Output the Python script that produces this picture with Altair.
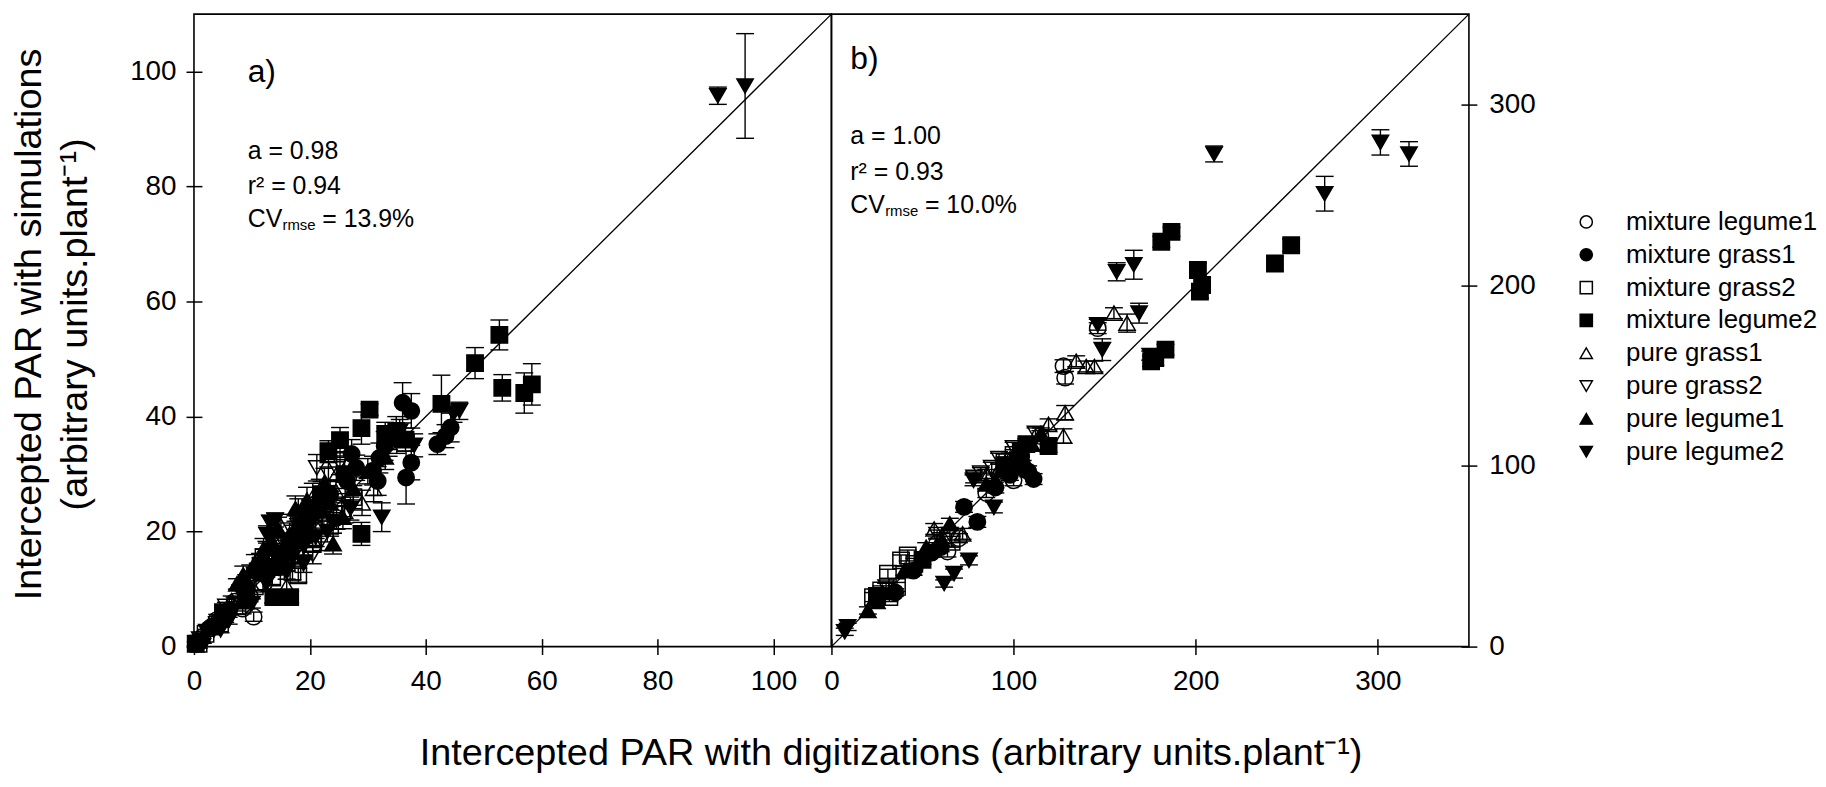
import altair as alt
import pandas as pd

FONT = "Liberation Sans"

SERIES = ["mixture legume1", "mixture grass1", "mixture grass2", "mixture legume2",
          "pure grass1", "pure grass2", "pure legume1", "pure legume2"]
SHAPES = ["circle", "circle", "square", "square",
          "triangle-up", "triangle-down", "triangle-up", "triangle-down"]
FILLS = ["transparent", "black", "transparent", "black",
         "transparent", "transparent", "black", "black"]
STROKES = ["black"] * 8

# ---- panel a) : (digitized, simulated, error) -------------------------------
A_MIX_LEGUME1 = [(0.5, 0.8, 0.3), (1.4, 1.6, 0.4), (2.6, 3.1, 0.5), (3.9, 4.6, 0.6), (5.4, 5.0, 0.8),
                 (7.0, 7.8, 0.8), (8.4, 6.6, 0.9), (9.6, 8.8, 1.0), (10.3, 5.2, 0.8), (12.1, 11.0, 1.2),
                 (14.6, 13.8, 1.3), (17.4, 16.1, 1.5), (21.0, 20.6, 1.8), (24.6, 22.4, 2.0)]
A_MIX_GRASS1 = [(1.0, 0.8, 0.3), (3.1, 3.5, 0.5), (6.1, 6.4, 0.8), (9.1, 10.1, 1.0), (11.0, 13.0, 1.5),
                (13.0, 13.6, 1.2), (15.0, 16.0, 1.6), (16.6, 17.1, 1.5), (18.0, 20.0, 1.8), (19.4, 21.6, 1.8),
                (21.0, 23.5, 2.0), (22.6, 25.4, 2.0), (23.5, 26.5, 2.2), (26.4, 28.8, 2.2), (27.2, 33.5, 2.5),
                (28.0, 31.1, 2.2), (30.9, 30.6, 2.5), (31.7, 28.8, 2.5), (32.0, 32.8, 2.6), (32.9, 34.9, 2.5),
                (36.0, 42.4, 3.5), (37.5, 41.0, 3.0), (37.5, 32.0, 3.0), (36.6, 29.4, 4.6), (42.0, 35.2, 1.8),
                (44.3, 38.1, 2.5), (43.4, 36.6, 2.0)]
A_MIX_GRASS2 = [(0.8, 0.5, 0.3), (2.0, 2.2, 0.4), (4.5, 4.0, 0.6), (7.5, 7.0, 0.8), (10.5, 10.5, 1.0),
                (12.0, 15.5, 1.5), (13.5, 12.0, 1.2), (15.0, 17.5, 1.6), (16.0, 14.5, 1.3), (17.0, 13.0, 1.4),
                (18.0, 12.4, 1.2), (19.0, 19.5, 1.5), (20.5, 18.0, 1.6), (23.5, 21.0, 1.8), (25.5, 24.0, 2.0),
                (27.5, 26.0, 2.0)]
A_MIX_LEGUME2 = [(0.3, 0.5, 0.3), (5.0, 6.0, 0.8), (9.0, 8.0, 1.0), (11.5, 14.0, 1.5), (13.7, 8.6, 1.0),
                 (15.0, 14.0, 1.5), (16.6, 8.6, 1.0), (17.5, 18.5, 1.8), (18.5, 21.0, 1.5), (20.0, 23.5, 2.0),
                 (21.5, 24.0, 2.0), (22.0, 26.5, 2.2), (23.2, 34.0, 1.8), (25.2, 35.9, 2.2), (26.0, 30.0, 2.5),
                 (28.9, 38.0, 2.8), (30.3, 41.2, 1.0), (28.9, 19.6, 2.0), (33.0, 37.0, 2.0), (34.9, 37.5, 2.5),
                 (36.5, 36.0, 2.0), (42.7, 42.2, 5.0), (48.5, 49.3, 2.7), (52.7, 54.2, 2.6), (53.2, 45.0, 2.3),
                 (57.0, 44.1, 3.5), (58.3, 45.6, 3.6)]
A_PURE_GRASS1 = [(1.5, 1.8, 0.4), (4.0, 5.0, 0.6), (6.5, 8.0, 0.8), (9.0, 11.5, 1.0), (11.5, 13.5, 1.2),
                 (12.5, 16.5, 1.8), (14.0, 16.5, 1.4), (15.0, 21.0, 2.0), (16.0, 10.5, 1.2), (17.0, 19.5, 1.6),
                 (18.0, 23.5, 2.2), (19.5, 22.5, 1.8), (20.5, 26.0, 2.4), (22.0, 25.5, 2.0), (24.5, 27.0, 2.0),
                 (26.0, 23.5, 2.0), (29.0, 25.0, 2.2), (31.0, 27.5, 2.3), (33.6, 35.5, 2.4)]
A_PURE_GRASS2 = [(1.0, 1.3, 0.3), (3.5, 3.0, 0.5), (5.5, 7.0, 0.7), (8.0, 9.5, 0.9), (10.5, 12.5, 1.1),
                 (13.0, 15.5, 1.3), (13.7, 8.5, 1.0), (15.5, 18.0, 1.5), (18.0, 21.0, 1.7), (20.5, 16.0, 1.6),
                 (21.2, 31.1, 2.3), (22.0, 18.5, 1.8), (23.2, 30.0, 2.0), (24.6, 30.9, 2.0), (25.2, 31.9, 2.0)]
A_PURE_LEGUME1 = [(0.8, 1.0, 0.3), (2.8, 3.3, 0.5), (5.0, 5.8, 0.7), (7.4, 10.9, 0.9), (8.5, 12.5, 1.5),
                  (9.7, 13.2, 1.0), (10.5, 14.5, 1.5), (11.4, 15.0, 1.2), (12.0, 17.0, 1.8), (13.4, 18.4, 1.4),
                  (14.5, 20.5, 2.0), (15.5, 17.5, 1.4), (16.5, 19.5, 2.0), (17.5, 24.0, 2.2), (18.9, 22.5, 1.6),
                  (19.5, 25.5, 2.2), (20.0, 20.0, 1.7), (21.7, 27.1, 2.0), (22.5, 28.5, 2.5), (23.5, 25.0, 2.0),
                  (25.7, 22.5, 2.0), (24.0, 17.9, 1.8), (27.5, 27.5, 2.0), (30.0, 30.5, 2.2), (33.0, 33.0, 2.2),
                  (35.0, 36.0, 2.4)]
A_PURE_LEGUME2 = [(0.5, 0.3, 0.3), (2.2, 2.6, 0.4), (4.6, 2.9, 0.5), (6.0, 4.5, 0.6), (8.5, 9.0, 0.9),
                  (10.0, 7.5, 0.8), (12.5, 11.0, 1.1), (12.6, 19.5, 1.5), (13.1, 21.6, 1.2), (14.0, 22.0, 1.2),
                  (16.0, 13.0, 1.3), (17.0, 15.5, 1.5), (18.9, 14.4, 1.5), (19.0, 17.5, 1.6), (21.0, 19.0, 1.6),
                  (23.0, 20.0, 1.8), (24.0, 21.5, 1.8), (27.0, 24.0, 2.0), (32.4, 22.5, 2.5), (35.5, 37.5, 2.0),
                  (38.0, 35.0, 2.0), (44.8, 40.5, 1.5), (45.8, 41.0, 1.5), (90.4, 95.8, 1.5), (95.1, 97.5, 9.1)]

# ---- panel b) ----------------------------------------------------------------
B_MIX_LEGUME1 = [(127.4, 155.2, 3.5), (128.3, 148.8, 3.5), (146.2, 176.2, 3.0), (114.7, 116.5, 3.0),
                 (63.7, 52.6, 3.0), (58.0, 57.0, 3.0), (100.0, 92.0, 3.0), (95.0, 97.0, 3.0),
                 (85.0, 85.0, 2.5), (70.0, 60.0, 2.5)]
B_MIX_GRASS1 = [(72.8, 77.3, 3.0), (80.1, 69.0, 3.0), (111.0, 92.7, 3.0), (105.0, 100.0, 3.0), (98.0, 95.0, 3.0),
                (90.0, 88.0, 3.0), (60.0, 55.0, 2.5), (55.0, 52.0, 2.5), (35.0, 30.0, 2.0), (45.0, 42.0, 2.5),
                (102.0, 104.0, 3.0), (108.0, 97.0, 3.0)]
B_MIX_GRASS2 = [(41.9, 50.4, 3.0), (45.5, 45.8, 3.0), (38.2, 47.7, 3.0), (31.0, 40.3, 2.5), (27.3, 31.1, 2.5),
                (31.8, 27.4, 2.5), (22.8, 27.4, 2.5), (36.0, 33.0, 2.5), (95.0, 102.0, 3.0), (100.0, 106.0, 3.0),
                (66.0, 58.0, 3.0)]
B_MIX_LEGUME2 = [(181.1, 224.0, 3.0), (186.7, 229.5, 2.5), (201.2, 208.4, 4.0), (203.5, 200.1, 4.0),
                 (202.3, 196.4, 3.5), (243.5, 212.0, 4.0), (252.4, 222.1, 3.5), (177.8, 159.7, 4.0),
                 (183.4, 164.3, 3.0), (175.5, 157.9, 3.0), (119.2, 111.0, 3.5), (107.0, 112.0, 3.0),
                 (104.0, 108.0, 3.0), (25.0, 28.0, 2.0), (50.0, 48.0, 2.5), (95.0, 100.0, 3.0)]
B_PURE_GRASS1 = [(155.1, 184.5, 3.0), (162.3, 179.0, 5.0), (134.4, 157.9, 3.0), (139.9, 155.0, 3.0),
                 (144.4, 155.0, 3.0), (128.3, 129.4, 4.0), (119.2, 123.0, 3.0), (127.4, 116.5, 4.0),
                 (56.4, 65.1, 3.0), (72.0, 62.4, 3.0), (60.0, 60.0, 3.0), (85.0, 95.0, 3.0),
                 (92.0, 98.0, 3.0), (98.0, 104.0, 3.0), (25.0, 28.0, 2.0)]
B_PURE_GRASS2 = [(78.3, 93.6, 3.0), (88.0, 99.0, 3.0), (82.0, 96.0, 3.0), (92.0, 104.0, 3.0), (100.0, 110.0, 3.0),
                 (104.0, 108.0, 3.0), (65.0, 62.0, 3.0), (58.0, 62.0, 2.5), (45.0, 42.0, 2.5), (30.0, 33.0, 2.0),
                 (112.0, 118.0, 3.0)]
B_PURE_LEGUME1 = [(20.0, 20.0, 2.0), (25.0, 25.0, 2.0), (40.0, 42.0, 2.5), (52.0, 55.0, 2.5), (65.0, 68.0, 3.0),
                  (90.0, 92.0, 3.0), (96.0, 98.0, 3.0), (103.0, 104.0, 3.0), (110.0, 112.0, 3.0),
                  (115.0, 118.0, 3.0), (28.0, 30.0, 2.5), (85.0, 90.0, 3.0)]
B_PURE_LEGUME2 = [(210.1, 272.6, 4.4), (301.4, 279.0, 7.0), (317.1, 272.6, 6.8), (270.8, 250.6, 9.6),
                  (156.6, 207.4, 5.0), (166.0, 211.3, 8.0), (168.9, 184.5, 5.5), (146.2, 178.1, 3.0),
                  (148.7, 164.3, 6.0), (75.5, 47.7, 2.5), (67.3, 40.4, 2.5), (61.9, 34.9, 2.0),
                  (89.2, 77.0, 3.0), (7.3, 8.2, 2.0), (8.9, 10.9, 2.0), (175.0, 161.0, 2.5),
                  (100.0, 100.0, 3.0), (104.0, 102.0, 3.0), (78.0, 92.0, 3.0)]

A_MAX = 110
B_MAX = 350
A_TICKS = [0, 20, 40, 60, 80, 100]
B_TICKS = [0, 100, 200, 300]
A_DIAG = [0, 110]
B_DIAG = [0, 350]

PANEL_LABELS = ["a)", "b)"]
A_STATS = ["a = 0.98", "r\u00b2 = 0.94", "= 13.9%"]
B_STATS = ["a = 1.00", "r\u00b2 = 0.93", "= 10.0%"]
CV_TEXT = ["CV", "rmse"]
X_TITLE = "Intercepted PAR with digitizations (arbitrary units.plant\u207b\u00b9)"
Y_TITLE = ["Intercepted PAR with simulations", "(arbitrary units.plant\u207b\u00b9)"]

W = 641
H = 636


def build_df(groups):
    rows = []
    for name, pts in zip(SERIES, groups):
        for x, y, e in pts:
            rows.append({"series": name, "x": x, "y": y, "lo": y - e, "hi": y + e})
    return pd.DataFrame(rows)


df_a = build_df([A_MIX_LEGUME1, A_MIX_GRASS1, A_MIX_GRASS2, A_MIX_LEGUME2,
                 A_PURE_GRASS1, A_PURE_GRASS2, A_PURE_LEGUME1, A_PURE_LEGUME2])
df_b = build_df([B_MIX_LEGUME1, B_MIX_GRASS1, B_MIX_GRASS2, B_MIX_LEGUME2,
                 B_PURE_GRASS1, B_PURE_GRASS2, B_PURE_LEGUME1, B_PURE_LEGUME2])

legend = alt.Legend(title=None, orient="none", legendX=1387, legendY=196,
                    labelFontSize=26, labelFont=FONT, labelColor="black", labelLimit=400,
                    symbolSize=150, symbolStrokeColor="black", symbolStrokeWidth=1.5,
                    labelOffset=27, rowPadding=7, symbolOpacity=1)
shape_enc = alt.Shape("series:N", scale=alt.Scale(domain=SERIES, range=SHAPES), legend=legend)
fill_enc = alt.Fill("series:N", scale=alt.Scale(domain=SERIES, range=FILLS), legend=legend)
stroke_enc = alt.Stroke("series:N", scale=alt.Scale(domain=SERIES, range=STROKES), legend=legend)


def text(t, x, y, size, align="left", angle=0):
    return alt.Chart(pd.DataFrame({"t": [t]})).mark_text(
        align=align, baseline="middle", fontSize=size, font=FONT, color="black", angle=angle
    ).encode(text="t:N", x=alt.value(x), y=alt.value(y))


def panel(df, dmax, ticks, diag, y_orient, label_pad_y, texts):
    xsc = alt.Scale(domain=[0, dmax], nice=False, zero=False)
    ysc = alt.Scale(domain=[0, dmax], nice=False, zero=False)
    xax = alt.Axis(values=ticks, title=None, tickSize=16, offset=-8, domain=False, grid=False,
                   labelFontSize=28, labelFont=FONT, labelColor="black", tickColor="black",
                   tickWidth=1.5, labelPadding=13, labelFlush=False, labelOverlap=False)
    yax = alt.Axis(values=ticks, title=None, orient=y_orient, tickSize=16, offset=-8, domain=False,
                   grid=False, labelFontSize=28, labelFont=FONT, labelColor="black",
                   tickColor="black", tickWidth=1.5, labelPadding=label_pad_y,
                   labelFlush=False, labelOverlap=False)
    base = alt.Chart(df)
    bars = base.mark_rule(color="black", strokeWidth=1.4).encode(
        x=alt.X("x:Q", scale=xsc, axis=xax), y=alt.Y("lo:Q", scale=ysc, axis=yax), y2="hi:Q")
    cap_lo = base.mark_point(shape="M-1,0L1,0", size=324, filled=False, color="black",
                             strokeWidth=1.4, opacity=1).encode(
        x=alt.X("x:Q", scale=xsc, axis=xax), y=alt.Y("lo:Q", scale=ysc, axis=yax))
    cap_hi = base.mark_point(shape="M-1,0L1,0", size=324, filled=False, color="black",
                             strokeWidth=1.4, opacity=1).encode(
        x=alt.X("x:Q", scale=xsc, axis=xax), y=alt.Y("hi:Q", scale=ysc, axis=yax))
    line = alt.Chart(pd.DataFrame({"v": diag})).mark_line(color="black", strokeWidth=1.3).encode(
        x=alt.X("v:Q", scale=xsc, axis=xax), y=alt.Y("v:Q", scale=ysc, axis=yax))
    pts = base.mark_point(filled=True, size=270, strokeWidth=1.5, opacity=1).encode(
        x=alt.X("x:Q", scale=xsc, axis=xax), y=alt.Y("y:Q", scale=ysc, axis=yax),
        shape=shape_enc, fill=fill_enc, stroke=stroke_enc)
    return alt.layer(bars, cap_lo, cap_hi, line, pts, *texts).properties(width=W, height=H)


def stats(labels, x0, ys, panel_label, ply):
    return [
        text(panel_label, x0, ply, 32),
        text(labels[0], x0, ys[0], 25),
        text(labels[1], x0, ys[1], 25),
        text(CV_TEXT[0], x0, ys[2], 25),
        text(CV_TEXT[1], x0 + 35, ys[2] + 6, 15),
        text(labels[2], x0 + 75, ys[2], 25),
    ]


texts_a = stats(A_STATS, 54, [138, 172.5, 206.5], PANEL_LABELS[0], 58) + [
    text(X_TITLE, 701, 744, 38, align="center"),
    text(Y_TITLE[0], -165, 312, 38, align="center", angle=270),
    text(Y_TITLE[1], -119, 312, 38, align="center", angle=270),
]
texts_b = stats(B_STATS, 19, [122.5, 158.5, 192.5], PANEL_LABELS[1], 45)

pa = panel(df_a, A_MAX, A_TICKS, A_DIAG, "left", 10, texts_a)
pb = panel(df_b, B_MAX, B_TICKS, B_DIAG, "right", 12, texts_b)

chart = alt.hconcat(pa, pb, spacing=0, bounds="flush").resolve_scale(
    x="independent", y="independent", shape="shared", fill="shared", stroke="shared"
).properties(
    padding={"left": 2, "top": 0, "right": 0, "bottom": 0}
).configure(font=FONT).configure_view(stroke="black", strokeWidth=1.6)

chart.save("out.html", embed_options={"renderer": "svg", "actions": False})
